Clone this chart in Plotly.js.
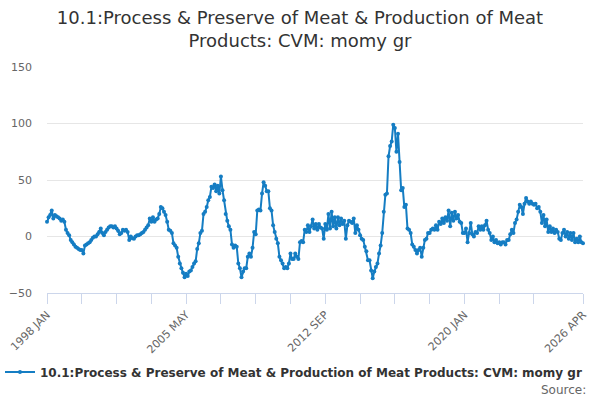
<!DOCTYPE html>
<html>
<head>
<meta charset="utf-8">
<script src="https://cdn.plot.ly/plotly-3.0.1.min.js"></script>
<style>
  html, body { margin: 0; padding: 0; background: #fff; }
  #chart { width: 600px; height: 400px; }
</style>
</head>
<body>
<div id="chart"></div>
<script>
// Monthly series, 1998 JAN .. 2026 APR
const seriesName = '10.1:Process & Preserve of Meat & Production of Meat Products: CVM: momy gr';
const years = [1998, 1999, 2000, 2001, 2002, 2003, 2004, 2005, 2006, 2007, 2008, 2009, 2010, 2011,
    2012, 2013, 2014, 2015, 2016, 2017, 2018, 2019, 2020, 2021, 2022, 2023, 2024, 2025, 2026];
const months = ['JAN', 'FEB', 'MAR', 'APR', 'MAY', 'JUN', 'JUL', 'AUG', 'SEP', 'OCT', 'NOV', 'DEC'];
const lastMonthCount = 4; // 2026 runs to APR

const values = [
    13, 17, 19, 23, 16, 19, 18, 17, 16, 14, 15, 13,          // 1998
    6, 3, 1, -3, -5, -7, -9, -10, -11, -12, -12, -15,        // 1999
    -8, -7, -6, -5, -3, -1, 0, 0, 2, 4, 7, 3,                // 2000
    1, 4, 6, 8, 9, 9, 8, 9, 7, 5, 2, 3,                      // 2001
    6, 5, 6, 4, -3, 0, -1.5, -2, 0, 1, 1, 2,                 // 2002
    3, 4, 6, 8, 10, 16, 13, 17, 13, 15, 16, 20,              // 2003
    26, 25, 22, 19, 13, 6, 5, 3, -6, -8, -10, -18,           // 2004
    -24, -28, -32, -36, -33, -35, -31, -30, -27, -24, -22, -11, // 2005
    -6, 3, 5, 20, 22, 26, 32, 35, 44, 43, 46, 40,            // 2006
    45, 38, 53, 41, 32, 20, 14, 9, 6, -7, -10, -8,           // 2007
    -9, -24, -28, -36, -31, -28, -28, -18, -15, -18, -10, 4, // 2008
    2, 23, 24, 23, 38, 48, 45, 40, 40, 25, 23, 10,           // 2009
    4, -2, -6, -18, -21, -24, -28, -27, -28, -24, -15, -20,  // 2010
    -20, -15, -18, -20, -5, -4, -5, 6, 4, 10, 4, 9,          // 2011
    15, 7, 11, 6, 11, 8, 7, -2, 11, 6, 20, 7,                // 2012
    22, 9, 17, 7, 17, 10, 16, 11, 14, -2, 10, 14,            // 2013
    13, 12, 16, 3, 10, 6, 1, -2, -3, -9, -13, -21,           // 2014
    -21, -30, -37, -31, -27, -24, -15, -8, 3, 22, 37, 38,    // 2015
    71, 80, 84, 99, 96, 75, 91, 66, 41, 43, 26, 28,          // 2016
    7, 6, 3, -7, -9, -12, -15, -12, -10, -18, -10, -3,       // 2017
    -2, 3, 3, 6, 7, 6, 10, 6, 13, 11, 16, 12,                // 2018
    17, 14, 23, 9, 21, 14, 22, 16, 19, 13, 12, 3,            // 2019
    3, 7, -5, 3, 12, 2, 0, 4, 3, 9, 6, 9,                    // 2020
    6, 10, 14, 6, 3, -3, 0, -5, -3, -6, -5, -7,              // 2021
    -5, -5, -7, -3, -3, 2, 6, 3, 12, 15, 22, 28,             // 2022
    26, 20, 29, 34, 31, 29, 31, 29, 28, 29, 25, 26,          // 2023
    22, 12, 19, 9, 15, 4, 9, 4, 7, 3, 6, 4,                  // 2024
    -2, -3, 3, 6, 0, 4, -2, 3, -3, 3, -5, -2,                // 2025
    -5, 0, -5, -6                                            // 2026
];

const categories = [];
years.forEach((y, yi) => {
    const n = yi === years.length - 1 ? lastMonthCount : 12;
    for (let m = 0; m < n; m++) categories.push(y + ' ' + months[m]);
});

// ticks every 22 months, labels every 4th tick plus the final month
const tickIdx = [];
for (let i = 0; i < categories.length - 22; i += 22) tickIdx.push(i);
tickIdx.push(categories.length - 1);
const labelIdx = [0, 88, 176, 264, categories.length - 1];

const FONT = '"DejaVu Sans", Verdana, sans-serif';
const LINE = '#157dc3';

Plotly.newPlot('chart', [{
    type: 'scatter',
    mode: 'lines+markers',
    name: seriesName,
    x: categories,
    y: values,
    line: { color: LINE, width: 2 },
    marker: { color: LINE, size: 4 },
    cliponaxis: false,
    hoverinfo: 'x+y'
}], {
    width: 600,
    height: 400,
    paper_bgcolor: '#fff',
    plot_bgcolor: '#fff',
    font: { family: FONT, color: '#666666', size: 11 },
    margin: { l: 47, r: 17, t: 67, b: 107 },
    title: {
        text: '10.1:Process & Preserve of Meat & Production of Meat<br>Products: CVM: momy gr',
        font: { family: FONT, size: 18, color: '#333333' },
        x: 0.5, xanchor: 'center',
        y: 0.94, yanchor: 'top', yref: 'container'
    },
    xaxis: {
        type: 'category',
        range: [0, categories.length - 1],
        tickmode: 'array',
        tickvals: tickIdx.map(i => categories[i]),
        ticktext: tickIdx.map(i => labelIdx.includes(i) ? categories[i] : ''),
        tickangle: -45,
        ticks: 'outside',
        ticklen: 10,
        tickcolor: '#ccd6eb',
        showline: true,
        linecolor: '#ccd6eb',
        linewidth: 1,
        showgrid: false,
        zeroline: false,
        tickfont: { size: 11, color: '#666666' }
    },
    yaxis: {
        range: [-50, 150],
        tickvals: [-50, 0, 50, 100, 150],
        showgrid: true,
        gridcolor: '#e6e6e6',
        gridwidth: 1,
        zeroline: false,
        showline: false,
        ticks: '',
        ticklabelstandoff: 14,
        tickfont: { size: 11, color: '#666666' }
    },
    showlegend: true,
    legend: {
        orientation: 'h',
        x: 0, xanchor: 'left', xref: 'container',
        y: 0.07, yanchor: 'middle', yref: 'container',
        font: { family: FONT, size: 12, color: '#333333', weight: 'bold' },
        itemwidth: 30
    },
    annotations: [{
        text: 'Source:',
        xref: 'paper', yref: 'paper',
        x: 1.009, y: -0.43,
        xanchor: 'right', yanchor: 'middle',
        showarrow: false,
        font: { family: FONT, size: 12, color: '#666666' }
    }]
}, { displayModeBar: false, staticPlot: true });
</script>
</body>
</html>
